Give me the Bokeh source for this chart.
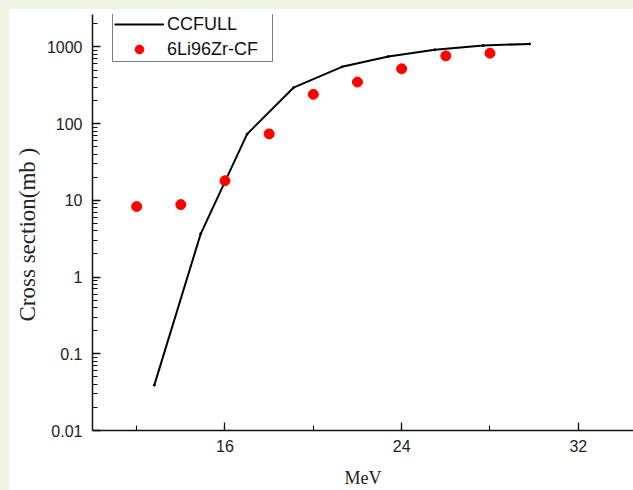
from bokeh.plotting import figure
from bokeh.layouts import column
from bokeh.models import (FixedTicker, SingleIntervalTicker, Legend, LegendItem, Range1d, Title)
from bokeh.embed import file_html
from bokeh.resources import INLINE

# ---- data ----
ccfull_energy = [12.8, 14.9, 17.0, 19.1, 21.3, 23.4, 25.5, 27.7, 29.8]
ccfull_sigma = [0.039, 3.66, 73, 294, 550, 750, 920, 1045, 1095]
exp_energy = [12, 14, 16, 18, 20, 22, 24, 26, 28]
exp_sigma = [8.3, 8.8, 18.0, 73.5, 241, 348, 518, 764, 828]
y_major = [0.01, 0.1, 1, 10, 100, 1000]
y_major_labels = ["0.01", "0.1", "1", "10", "100", "1000"]
series_names = ["CCFULL", "6Li96Zr-CF"]
x_title = "MeV"
y_title = "Cross section(mb )"

SANS = "Liberation Sans"
SERIF = "Liberation Serif"

p = figure(width=625, height=482, y_axis_type="log",
           x_range=Range1d(10, 34.5), y_range=Range1d(0.01, 2646),
           output_backend="svg", toolbar_location=None,
           min_border_left=84, min_border_right=0, min_border_top=6,
           min_border_bottom=51, background_fill_color="white",
           border_fill_color="white")
p.margin = (8, 0, 0, 8)
p.outline_line_color = None
p.grid.visible = False

r_line = p.line(ccfull_energy, ccfull_sigma, line_color="black", line_width=2)
r_pts = p.scatter(ccfull_energy, ccfull_sigma, size=2, color="black")
r_exp = p.scatter(exp_energy, exp_sigma, size=10, fill_color="#ff0000",
                  line_color="#ff0000", marker="circle")

# axes
minor = [m * d for d in [0.01, 0.1, 1, 10, 100, 1000] for m in range(2, 10)]
p.yaxis.ticker = FixedTicker(ticks=y_major, minor_ticks=minor)
p.yaxis.major_label_overrides = {v: s for v, s in zip(y_major, y_major_labels)}
p.xaxis.ticker = SingleIntervalTicker(interval=8, num_minor_ticks=2)

for ax in (p.xaxis[0], p.yaxis[0]):
    ax.axis_line_width = 1.5
    ax.axis_line_color = "#111111"
    ax.major_tick_in = 8
    ax.major_tick_out = 0
    ax.minor_tick_in = 5
    ax.minor_tick_out = 0
    ax.major_tick_line_width = 1.3
    ax.minor_tick_line_width = 1.1
    ax.major_tick_line_color = "#111111"
    ax.minor_tick_line_color = "#111111"
    ax.major_label_text_font = SANS
    ax.major_label_text_font_size = "16px"
    ax.major_label_text_color = "#222222"
    ax.axis_label_text_font = SERIF
    ax.axis_label_text_font_size = "18px"
    ax.axis_label_text_font_style = "normal"
    ax.axis_label_text_color = "#222222"

p.xaxis.axis_label = x_title
p.xaxis.major_label_standoff = 9
p.xaxis.axis_label_standoff = 13
p.yaxis.major_label_standoff = 10

ytitle = Title(text=y_title, align="left", text_font=SERIF, text_font_size="23px",
               text_font_style="normal", text_color="#222222", standoff=8, offset=109)
p.add_layout(ytitle, "left")

legend = Legend(items=[LegendItem(label=series_names[0], renderers=[r_line]),
                       LegendItem(label=series_names[1], renderers=[r_exp])],
                location=(20, 368))
legend.border_line_color = "black"
legend.border_line_width = 1
legend.background_fill_color = "white"
legend.background_fill_alpha = 1
legend.label_text_font = SANS
legend.label_text_font_size = "18px"
legend.label_text_color = "#111111"
legend.glyph_width = 50
legend.glyph_height = 22
legend.label_height = 22
legend.label_width = 104
legend.label_standoff = 3
legend.spacing = 3
legend.padding = 1
legend.margin = 0
p.add_layout(legend, "center")

layout = column(p, styles={"background-color": "#eef2e3"})

open("out.html", "w").write(file_html(layout, INLINE))
